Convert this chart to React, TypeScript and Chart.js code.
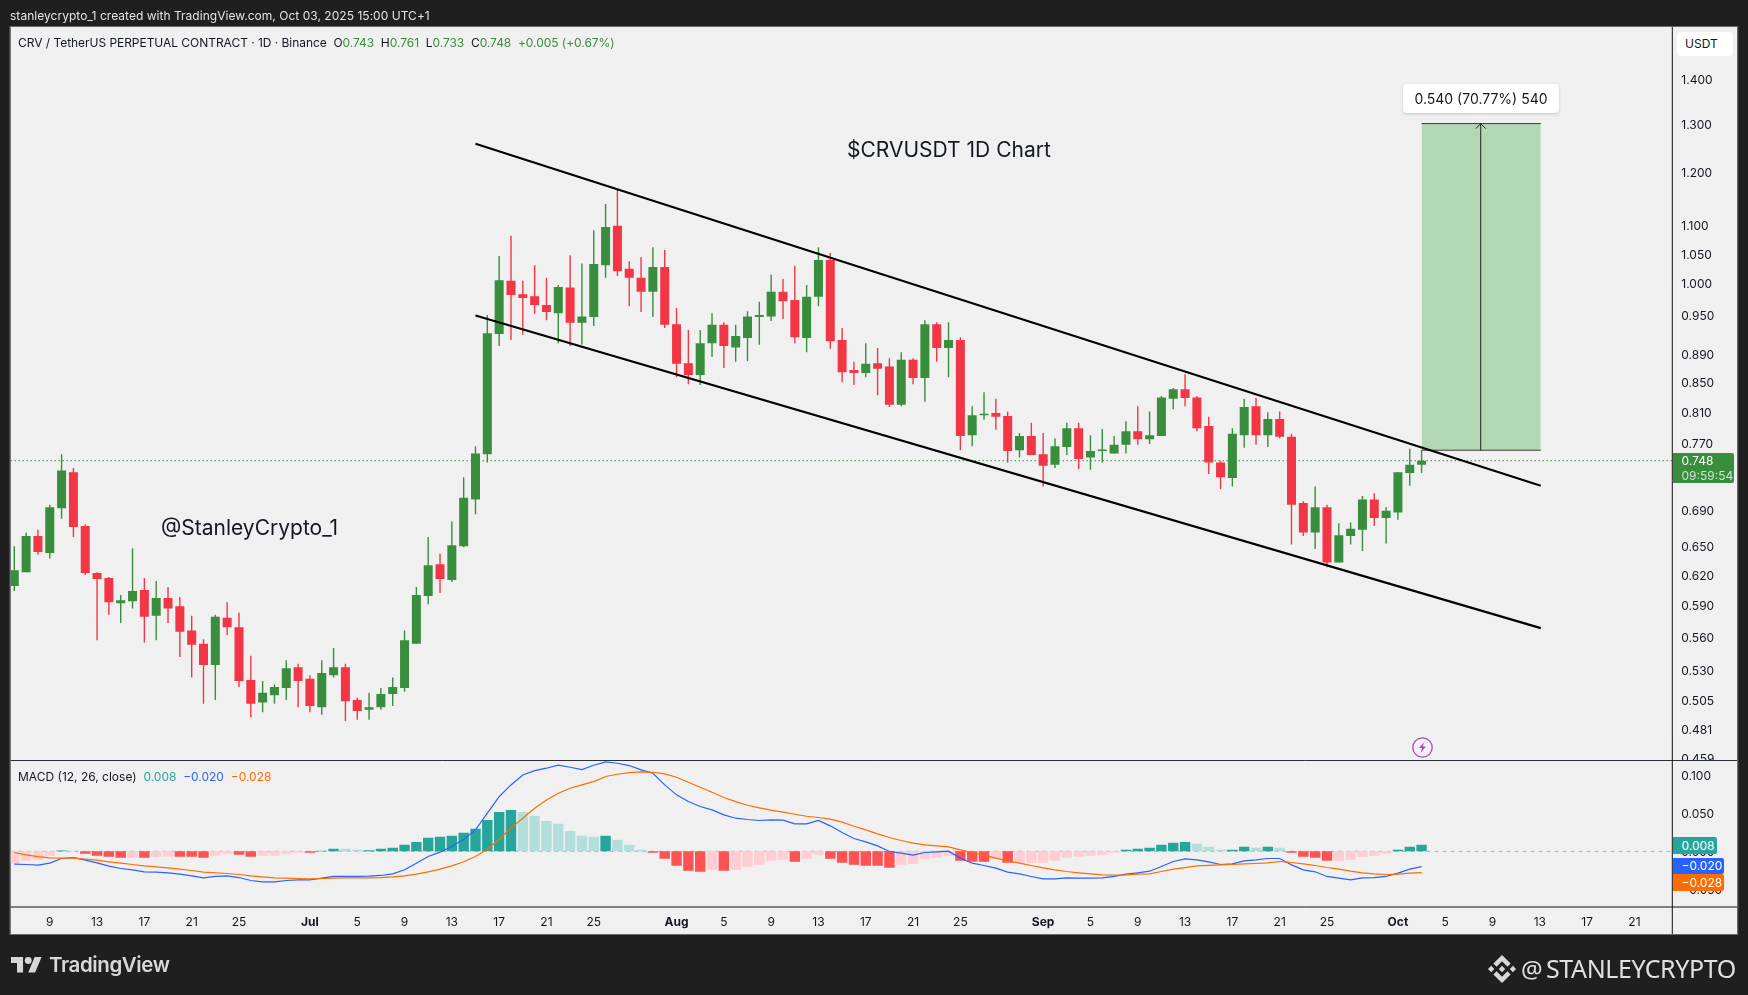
import React, { useEffect, useRef } from "react";
import { Chart, registerables } from "chart.js";

Chart.register(...registerables);

// Daily candles, Jun 6 2025 (day -25 counted from Jul 1) to Oct 3 2025 (day 94)
const firstDay = -25;
const opens = [
  0.609, 0.623, 0.661, 0.643, 0.692, 0.734, 0.672, 0.622, 0.617, 0.592,
  0.594, 0.605, 0.58, 0.597, 0.589, 0.566, 0.554, 0.535, 0.578, 0.569,
  0.522, 0.503, 0.509, 0.515, 0.533, 0.523, 0.499, 0.526, 0.533, 0.505,
  0.497, 0.499, 0.51, 0.515, 0.554, 0.599, 0.631, 0.615, 0.65, 0.702,
  0.756, 0.921, 1.005, 0.983, 0.98, 0.966, 0.953, 0.994, 0.938, 0.947,
  1.031, 1.1, 1.025, 1.01, 0.987, 1.028, 0.936, 0.878, 0.861, 0.907,
  0.935, 0.901, 0.915, 0.947, 0.948, 0.987, 0.974, 0.915, 0.979, 1.04,
  0.912, 0.868, 0.864, 0.878, 0.873, 0.82, 0.883, 0.857, 0.936, 0.9,
  0.912, 0.78, 0.806, 0.809, 0.805, 0.761, 0.779, 0.756, 0.743, 0.765,
  0.789, 0.752, 0.76, 0.757, 0.768, 0.785, 0.775, 0.779, 0.828, 0.841,
  0.83, 0.792, 0.746, 0.727, 0.78, 0.818, 0.78, 0.801, 0.778, 0.698,
  0.665, 0.693, 0.633, 0.661, 0.668, 0.702, 0.681, 0.687, 0.733, 0.743,
];
const highs = [
  0.65, 0.665, 0.668, 0.696, 0.756, 0.739, 0.674, 0.623, 0.618, 0.6,
  0.648, 0.617, 0.614, 0.608, 0.598, 0.58, 0.558, 0.581, 0.593, 0.583,
  0.543, 0.521, 0.518, 0.539, 0.536, 0.526, 0.539, 0.55, 0.536, 0.507,
  0.511, 0.515, 0.524, 0.566, 0.608, 0.66, 0.642, 0.677, 0.728, 0.766,
  0.95, 1.047, 1.082, 1.005, 1.031, 1.01, 0.998, 1.048, 1.034, 1.092,
  1.14, 1.167, 1.038, 1.045, 1.062, 1.057, 0.961, 0.927, 0.927, 0.953,
  0.939, 0.935, 0.956, 0.971, 1.015, 1.008, 1.03, 0.998, 1.062, 1.052,
  0.93, 0.88, 0.907, 0.9, 0.885, 0.894, 0.885, 0.942, 0.939, 0.939,
  0.916, 0.818, 0.837, 0.828, 0.811, 0.783, 0.796, 0.783, 0.776, 0.796,
  0.796, 0.78, 0.788, 0.779, 0.798, 0.818, 0.811, 0.832, 0.843, 0.862,
  0.832, 0.804, 0.748, 0.789, 0.828, 0.829, 0.81, 0.811, 0.782, 0.7,
  0.717, 0.696, 0.675, 0.676, 0.706, 0.709, 0.693, 0.734, 0.763, 0.761,
];
const lows = [
  0.604, 0.623, 0.641, 0.637, 0.68, 0.66, 0.62, 0.557, 0.581, 0.573,
  0.587, 0.555, 0.557, 0.573, 0.542, 0.524, 0.502, 0.505, 0.562, 0.516,
  0.491, 0.495, 0.502, 0.505, 0.499, 0.495, 0.493, 0.524, 0.488, 0.489,
  0.489, 0.497, 0.5, 0.512, 0.554, 0.591, 0.602, 0.613, 0.649, 0.685,
  0.746, 0.903, 0.912, 0.92, 0.952, 0.942, 0.907, 0.903, 0.905, 0.933,
  1.01, 1.013, 0.964, 0.955, 0.947, 0.93, 0.858, 0.848, 0.847, 0.887,
  0.871, 0.88, 0.881, 0.905, 0.941, 0.944, 0.907, 0.894, 0.964, 0.899,
  0.851, 0.847, 0.858, 0.833, 0.817, 0.818, 0.848, 0.824, 0.88, 0.858,
  0.761, 0.766, 0.8, 0.787, 0.746, 0.752, 0.755, 0.717, 0.739, 0.755,
  0.738, 0.737, 0.746, 0.757, 0.757, 0.768, 0.769, 0.779, 0.814, 0.818,
  0.785, 0.732, 0.714, 0.717, 0.764, 0.768, 0.765, 0.776, 0.652, 0.661,
  0.647, 0.628, 0.633, 0.652, 0.645, 0.672, 0.653, 0.679, 0.718, 0.733,
];
const closes = [
  0.625, 0.661, 0.644, 0.693, 0.736, 0.671, 0.622, 0.616, 0.593, 0.595,
  0.604, 0.579, 0.597, 0.587, 0.565, 0.553, 0.535, 0.579, 0.569, 0.521,
  0.502, 0.511, 0.516, 0.532, 0.521, 0.5, 0.528, 0.533, 0.504, 0.496,
  0.499, 0.51, 0.516, 0.557, 0.6, 0.63, 0.616, 0.651, 0.704, 0.757,
  0.922, 1.006, 0.982, 0.977, 0.966, 0.955, 0.995, 0.938, 0.948, 1.033,
  1.098, 1.021, 1.01, 0.987, 1.028, 0.935, 0.877, 0.861, 0.907, 0.935,
  0.903, 0.918, 0.948, 0.95, 0.987, 0.972, 0.916, 0.979, 1.04, 0.91,
  0.865, 0.864, 0.877, 0.87, 0.82, 0.883, 0.857, 0.936, 0.9, 0.912,
  0.779, 0.806, 0.808, 0.804, 0.76, 0.779, 0.755, 0.742, 0.766, 0.789,
  0.75, 0.76, 0.761, 0.768, 0.785, 0.775, 0.78, 0.83, 0.841, 0.829,
  0.789, 0.746, 0.728, 0.782, 0.817, 0.78, 0.801, 0.778, 0.696, 0.665,
  0.693, 0.633, 0.662, 0.669, 0.702, 0.681, 0.689, 0.734, 0.743, 0.748,
];

// MACD pane, in thousandths
const histogramMilli = [
  -16.4, -12.4, -11.1, -5.9, 1.1, 0.7, -3.3, -5.9, -7.2, -8.5,
  -8.5, -8.5, -7.2, -7.2, -7.2, -7.2, -8.5, -5.9, -3.3, -4.6,
  -7.2, -5.9, -5.9, -3.3, -2.0, -2.0, 0.7, 3.3, 3.3, 2.0,
  1.5, 3.3, 4.6, 8.5, 12.4, 17.7, 19.0, 20.3, 24.2, 29.5,
  41.2, 51.7, 54.3, 51.7, 46.5, 39.9, 36.0, 26.8, 20.3, 19.0,
  20.3, 15.1, 8.5, 2.0, -2.0, -9.8, -19.0, -25.5, -26.8, -24.2,
  -25.5, -24.2, -20.3, -17.7, -12.4, -11.1, -13.7, -9.8, -4.6, -9.8,
  -15.1, -17.7, -19.0, -19.0, -21.6, -17.7, -16.4, -9.8, -8.5, -5.9,
  -12.4, -13.7, -13.7, -9.8, -15.1, -15.1, -15.1, -15.1, -12.4, -8.5,
  -7.2, -5.9, -4.6, -2.0, 2.0, 3.3, 4.6, 8.5, 11.1, 12.4,
  9.8, 5.9, 2.0, 2.0, 5.9, 4.6, 5.9, 4.6, -2.0, -7.2,
  -8.5, -12.4, -12.4, -11.1, -7.2, -5.9, -3.3, 2.0, 5.9, 8.5,
];
const histogramTones = (
  "PPPPTLRRRR" + "PRPPRRRPPR" + "RPPPPRTTLL" + "TTTTTTTTTT" +
  "TTTLLLLLLL" + "TLLLRRRRRP" + "RPPPPPRPPR" + "RRRRRPPPPP" +
  "RRRPRPPPPP" + "PPPPTTTTTT" + "LLLTTLTLRR" + "RRPPPPPTTT"
).split("");
const macdMilli = [
  -16.8, -17.2, -18.1, -15.5, -9.4, -8.1, -11.6, -15.1, -19.4, -22.5,
  -24.2, -26.8, -27.3, -28.1, -29.9, -32.1, -34.7, -32.9, -32.1, -34.3,
  -38.2, -39.9, -39.9, -38.2, -37.3, -37.3, -35.1, -32.9, -32.9, -32.9,
  -32.5, -31.6, -29.5, -24.2, -15.5, -6.8, -1.1, 6.3, 15.9, 28.1,
  50.0, 71.8, 87.0, 100.1, 105.8, 108.9, 112.8, 110.2, 107.1, 112.8,
  117.1, 115.4, 112.4, 106.7, 102.3, 87.0, 74.0, 65.2, 58.7, 54.3,
  47.8, 43.4, 41.7, 40.4, 41.2, 40.8, 36.0, 36.0, 40.4, 33.4,
  24.7, 16.8, 12.4, 7.2, -0.2, -2.4, -5.0, -1.5, -0.7, 0.2,
  -8.9, -15.5, -18.5, -22.0, -27.3, -29.5, -32.9, -36.0, -36.0, -34.7,
  -35.1, -35.1, -34.7, -32.9, -29.9, -28.1, -26.0, -19.9, -13.3, -9.8,
  -11.1, -13.7, -17.2, -16.4, -12.4, -11.1, -9.4, -9.4, -17.7, -24.2,
  -26.8, -32.9, -35.1, -37.3, -34.7, -34.3, -32.9, -28.6, -23.3, -20.0,
];
const signalMilli = [
  -1.5, -4.6, -6.8, -8.5, -8.9, -8.9, -10.3, -11.6, -13.7, -15.5,
  -17.2, -19.0, -20.3, -21.6, -23.3, -25.1, -27.3, -28.1, -29.0, -30.3,
  -32.1, -33.4, -34.7, -35.1, -35.6, -36.0, -35.6, -35.1, -34.7, -34.7,
  -34.7, -34.3, -33.4, -32.1, -29.9, -26.8, -23.3, -19.0, -13.7, -6.8,
  2.8, 15.9, 30.8, 43.4, 56.5, 67.4, 76.1, 82.7, 87.0, 91.4,
  98.0, 101.0, 103.2, 104.1, 103.6, 101.4, 97.1, 90.5, 84.0, 77.4,
  70.5, 65.2, 60.4, 56.9, 53.9, 51.3, 48.6, 46.0, 44.3, 42.1,
  38.2, 32.9, 28.1, 22.9, 18.1, 14.2, 10.7, 8.5, 7.2, 5.9,
  2.0, -1.5, -5.0, -8.9, -12.4, -15.5, -18.5, -21.6, -24.2, -26.4,
  -28.1, -29.5, -30.8, -31.2, -30.8, -29.9, -29.5, -26.4, -23.3, -21.2,
  -19.0, -18.5, -17.7, -17.2, -16.4, -15.9, -15.1, -13.3, -14.6, -16.4,
  -18.5, -21.2, -23.3, -26.0, -28.1, -29.5, -30.3, -29.9, -28.6, -28.0,
];

// Axes
const priceTicks = [1.4, 1.3, 1.2, 1.1, 1.05, 1.0, 0.95, 0.89, 0.85, 0.81, 0.77, 0.69, 0.65, 0.62, 0.59, 0.56, 0.53, 0.505, 0.481, 0.459];
const macdTicks = [0.1, 0.05, 0, -0.05];
const timeTickDays = [-22, -18, -14, -10, -6, 0, 4, 8, 12, 16, 20, 24, 31, 35, 39, 43, 47, 51, 55, 62, 66, 70, 74, 78, 82, 86, 92, 96, 100, 104, 108, 112];
const timeTickLabels = ["9", "13", "17", "21", "25", "Jul", "5", "9", "13", "17", "21", "25", "Aug", "5", "9", "13", "17", "21", "25", "Sep", "5", "9", "13", "17", "21", "25", "Oct", "5", "9", "13", "17", "21"];
const monthLabels = ["Jul", "Aug", "Sep", "Oct"];

// Drawings, in day / price terms
const upperChannelDays = [14, 104.08];
const upperChannelPrices = [1.2586, 0.7179];
const lowerChannelDays = [14, 104.08];
const lowerChannelPrices = [0.9493, 0.5683];
const projectionDays = [94, 104.08];
const projectionLow = 0.761;
const projectionHigh = 1.301;
const projectionMidDay = 99;
const arrowHeadDays = [98.58, 99, 99.42];
const arrowHeadPrices = [1.2903, 1.301, 1.2903];
const lastPrice = 0.748;

const dayMin = -25.32;
const dayMax = 115.2;
const priceMin = 0.4573;
const priceMax = 1.5245;
const macdMin = -0.0729;
const macdMax = 0.119;

const UP = "#388e3c";
const DOWN = "#f23645";
const toneColors: Record<string, string> = { T: "#26a69a", L: "#b2dfdb", R: "#ff5252", P: "#ffcdd2" };
const FONT = "Inter, 'Noto Sans', sans-serif";
const PANEL = "#f0f0f0";
const DARK = "#1f1f1f";

const days = opens.map((_, i) => firstDay + i);
const pts = (xs: number[], ys: number[]) => xs.map((x, i) => ({ x, y: ys[i] }));
const candleColors = opens.map((o, i) => (closes[i] >= o ? UP : DOWN));

const backdrop = {
  id: "backdrop",
  beforeDraw(chart: any) {
    const { ctx, width, height, chartArea: a, scales } = chart;
    const axisRight = scales.priceY.right;
    ctx.save();
    ctx.fillStyle = DARK;
    ctx.fillRect(0, 0, width, height);
    ctx.fillStyle = PANEL;
    ctx.fillRect(a.left, a.top, axisRight - a.left, scales.x.bottom - a.top);
    ctx.restore();
  },
  beforeDatasetsDraw(chart: any) {
    // the MACD pane cuts off the lowest price label
    const { ctx, scales } = chart;
    const m = scales.macdY;
    ctx.save();
    ctx.fillStyle = PANEL;
    ctx.fillRect(m.left, m.top, m.right - m.left, m.bottom - m.top);
    ctx.restore();
  },
  afterDraw(chart: any) {
    const { ctx, chartArea: a, scales } = chart;
    const right = scales.priceY.right;
    const bottom = scales.x.bottom;
    const line = (x1: number, y1: number, x2: number, y2: number, c: string) => {
      ctx.strokeStyle = c;
      ctx.lineWidth = 1;
      ctx.beginPath();
      ctx.moveTo(x1, y1);
      ctx.lineTo(x2, y2);
      ctx.stroke();
    };
    ctx.save();
    line(a.left, scales.priceY.bottom, right, scales.priceY.bottom, "#2a2e39");
    line(a.left, a.bottom, right, a.bottom, "#111111");
    line(a.right, a.top, a.right, bottom, "#111111");
    ctx.strokeStyle = "#6a6a6a";
    ctx.strokeRect(a.left - 0.5, a.top - 0.5, right - a.left + 1, bottom - a.top + 1);
    ctx.restore();
  },
};

const abs = (left: number, top: number, extra: React.CSSProperties = {}): React.CSSProperties => ({
  position: "absolute",
  left,
  top,
  whiteSpace: "nowrap",
  fontFamily: FONT,
  ...extra,
});

const tag = (top: number, height: number, width: number, bg: string, text: string) => (
  <div
    style={abs(1672.5, top, {
      width,
      height,
      background: bg,
      color: "#fff",
      fontSize: 12,
      lineHeight: height + "px",
      paddingLeft: 9,
      boxSizing: "border-box",
      borderRadius: "0 2px 2px 0",
    })}
  >
    {text}
  </div>
);

export default function App() {
  const ref = useRef<HTMLCanvasElement>(null);
  useEffect(() => {
    const chart = new Chart(ref.current as HTMLCanvasElement, {
      type: "bar",
      data: {
        datasets: [
          {
            type: "line",
            label: "Last price",
            data: pts([dayMin, dayMax], [lastPrice, lastPrice]),
            yAxisID: "priceY",
            borderColor: UP,
            borderWidth: 1,
            borderDash: [1.5, 2.5],
            pointRadius: 0,
            order: 20,
          },
          {
            type: "bar",
            label: "Wicks",
            data: days.map((d, i) => ({ x: d, y: [lows[i], highs[i]] })),
            yAxisID: "priceY",
            backgroundColor: candleColors,
            barThickness: 1.4,
            grouped: false,
            inflateAmount: 0,
            order: 15,
          },
          {
            type: "bar",
            label: "Candles",
            data: days.map((d, i) => ({ x: d, y: [Math.min(opens[i], closes[i]), Math.max(opens[i], closes[i])] })),
            yAxisID: "priceY",
            backgroundColor: candleColors,
            barThickness: 9,
            grouped: false,
            inflateAmount: 0,
            minBarLength: 1.5,
            order: 14,
          },
          {
            type: "line",
            label: "Projection",
            data: pts(projectionDays, [projectionHigh, projectionHigh]),
            yAxisID: "priceY",
            borderColor: "#3c3c3c",
            borderWidth: 1,
            backgroundColor: "#b2d8b3",
            fill: { value: projectionLow },
            pointRadius: 0,
            order: 10,
          },
          {
            type: "line",
            label: "Projection base",
            data: pts(projectionDays, [projectionLow, projectionLow]),
            yAxisID: "priceY",
            borderColor: "#3c3c3c",
            borderWidth: 1,
            pointRadius: 0,
            order: 9,
          },
          {
            type: "line",
            label: "Projection arrow",
            data: pts([projectionMidDay, projectionMidDay], [projectionLow, projectionHigh]),
            yAxisID: "priceY",
            borderColor: "#222222",
            borderWidth: 1,
            pointRadius: 0,
            order: 8,
          },
          {
            type: "line",
            label: "Arrow head",
            data: pts(arrowHeadDays, arrowHeadPrices),
            yAxisID: "priceY",
            borderColor: "#222222",
            borderWidth: 1,
            pointRadius: 0,
            order: 7,
          },
          {
            type: "line",
            label: "Upper channel",
            data: pts(upperChannelDays, upperChannelPrices),
            yAxisID: "priceY",
            borderColor: "#000000",
            borderWidth: 2.2,
            pointRadius: 0,
            order: 2,
          },
          {
            type: "line",
            label: "Lower channel",
            data: pts(lowerChannelDays, lowerChannelPrices),
            yAxisID: "priceY",
            borderColor: "#000000",
            borderWidth: 2.2,
            pointRadius: 0,
            order: 1,
          },
          {
            type: "line",
            label: "Zero",
            data: pts([dayMin, dayMax], [0, 0]),
            yAxisID: "macdY",
            borderColor: "#b0b0b0",
            borderWidth: 1,
            borderDash: [4, 4],
            pointRadius: 0,
            order: 30,
          },
          {
            type: "bar",
            label: "Histogram",
            data: days.map((d, i) => ({ x: d, y: histogramMilli[i] / 1000 })),
            yAxisID: "macdY",
            backgroundColor: histogramTones.map((t) => toneColors[t]),
            barThickness: 10.4,
            grouped: false,
            inflateAmount: 0,
            order: 29,
          },
          {
            type: "line",
            label: "MACD",
            data: days.map((d, i) => ({ x: d, y: macdMilli[i] / 1000 })),
            yAxisID: "macdY",
            borderColor: "#2962ff",
            borderWidth: 1.2,
            pointRadius: 0,
            order: 28,
          },
          {
            type: "line",
            label: "Signal",
            data: days.map((d, i) => ({ x: d, y: signalMilli[i] / 1000 })),
            yAxisID: "macdY",
            borderColor: "#ff6d00",
            borderWidth: 1.2,
            pointRadius: 0,
            order: 27,
          },
        ],
      },
      options: {
        responsive: false,
        animation: false,
        devicePixelRatio: 1,
        events: [],
        layout: { padding: { left: 10.5, top: 27, right: 10.7, bottom: 61 } },
        plugins: { legend: { display: false }, tooltip: { enabled: false } },
        scales: {
          x: {
            type: "linear",
            position: "bottom",
            min: dayMin,
            max: dayMax,
            offset: false,
            bounds: "data",
            grid: { display: false, drawTicks: false },
            border: { display: false },
            afterBuildTicks: (s: any) => {
              s.ticks = timeTickDays.map((value) => ({ value }));
            },
            afterFit: (s: any) => {
              s.height = 27;
            },
            ticks: {
              autoSkip: false,
              maxRotation: 0,
              padding: 8,
              color: "#131722",
              font: (c: any) => {
                const label = timeTickLabels[c.index];
                return { family: FONT, size: 12, weight: monthLabels.includes(label) ? "700" : "400" };
              },
              callback: (_v: any, i: number) => timeTickLabels[i],
            },
          },
          priceY: {
            type: "logarithmic",
            position: "right",
            stack: "panes",
            stackWeight: 733.5,
            min: priceMin,
            max: priceMax,
            beginAtZero: false,
            grid: { display: false, drawTicks: false },
            border: { display: false },
            afterBuildTicks: (s: any) => {
              s.ticks = priceTicks.map((value) => ({ value }));
            },
            afterFit: (s: any) => {
              s.width = 65;
            },
            ticks: {
              autoSkip: false,
              padding: 9,
              labelOffset: 1,
              color: "#131722",
              font: { family: FONT, size: 12 },
              callback: (v: any) => Number(v).toFixed(3),
            },
          },
          macdY: {
            type: "linear",
            position: "right",
            stack: "panes",
            stackWeight: 146.5,
            min: macdMin,
            max: macdMax,
            bounds: "data",
            beginAtZero: false,
            grid: { display: false, drawTicks: false },
            border: { display: false },
            afterBuildTicks: (s: any) => {
              s.ticks = macdTicks.map((value) => ({ value }));
            },
            afterFit: (s: any) => {
              s.width = 65;
            },
            ticks: {
              z: 1,
              autoSkip: false,
              padding: 9,
              labelOffset: 1,
              color: "#131722",
              font: { family: FONT, size: 12 },
              callback: (v: any) => (Number(v) < 0 ? "\u2212" : "") + Math.abs(Number(v)).toFixed(3),
            },
          },
        },
      } as any,
      plugins: [backdrop],
    } as any);
    return () => chart.destroy();
  }, []);

  const g = { color: UP };
  return (
    <div style={{ position: "fixed", left: 0, top: 0, width: 1748, height: 995, overflow: "hidden", background: DARK }}>
      <canvas ref={ref} width={1748} height={995} style={{ position: "absolute", left: 0, top: 0, display: "block" }} />

      <div style={abs(10, 8, { color: "#e4e4e4", fontSize: 12, lineHeight: "16px", letterSpacing: 0.03 })}>
        stanleycrypto_1 created with TradingView.com, Oct 03, 2025 15:00 UTC+1
      </div>

      <div style={abs(18, 35, { color: "#131722", fontSize: 12, lineHeight: "16px", whiteSpace: "pre", letterSpacing: -0.04 })}>
        {"CRV / TetherUS PERPETUAL CONTRACT \u00b7 1D \u00b7 Binance  O"}
        <span style={g}>0.743</span>
        {"  H"}
        <span style={g}>0.761</span>
        {"  L"}
        <span style={g}>0.733</span>
        {"  C"}
        <span style={g}>0.748</span>
        <span style={g}>{"  +0.005 (+0.67%)"}</span>
      </div>

      <div style={abs(847, 138, { color: "#131722", fontSize: 21, lineHeight: "24px" })}>$CRVUSDT 1D Chart</div>
      <div style={abs(161, 515, { color: "#131722", fontSize: 21, lineHeight: "26px" })}>@StanleyCrypto_1</div>

      <div
        style={abs(1403, 84, {
          width: 156,
          height: 29,
          background: "#fff",
          borderRadius: 4,
          boxShadow: "0 1px 3px rgba(0,0,0,0.18)",
          color: "#131722",
          fontSize: 14,
          lineHeight: "29px",
          textAlign: "center",
        })}
      >
        0.540 (70.77%) 540
      </div>

      <div
        style={abs(1677, 32, {
          width: 56,
          height: 24,
          background: "#fff",
          borderRadius: 4,
          color: "#131722",
          fontSize: 12,
          lineHeight: "24px",
          paddingLeft: 8,
          boxSizing: "border-box",
        })}
      >
        USDT
      </div>

      <div
        style={abs(1672.5, 453, {
          width: 61.5,
          height: 30,
          background: UP,
          borderRadius: "0 2px 2px 0",
          paddingLeft: 9,
          boxSizing: "border-box",
          fontSize: 12,
          lineHeight: "15px",
          color: "#fff",
        })}
      >
        <div>0.748</div>
        <div style={{ opacity: 0.75 }}>09:59:54</div>
      </div>

      <svg style={{ position: "absolute", left: 1412, top: 737 }} width={21} height={21} viewBox="0 0 21 21">
        <circle cx="10.5" cy="10.5" r="9.7" fill="#f4f0f6" stroke="#ab47bc" strokeWidth="1.3" />
        <path d="M12 5.2 L7 11 L10 11 L8.6 15.8 L14 9.6 L10.8 9.6 Z" fill="#ab47bc" />
      </svg>

      <div style={abs(18, 769, { color: "#131722", fontSize: 12, lineHeight: "16px", whiteSpace: "pre" })}>
        {"MACD (12, 26, close)  "}
        <span style={{ color: "#26a69a" }}>0.008</span>
        {"  "}
        <span style={{ color: "#2962ff" }}>{"\u22120.020"}</span>
        {"  "}
        <span style={{ color: "#ff6d00" }}>{"\u22120.028"}</span>
      </div>

      {tag(837, 17, 44, "#26a69a", "0.008")}
      {tag(858, 16, 51, "#2962ff", "\u22120.020")}
      {tag(874, 17, 51, "#ff6d00", "\u22120.028")}

      <svg style={{ position: "absolute", left: 11, top: 957 }} width={31} height={15.5} viewBox="0 4 36 18" fill="#d8d8d8">
        <path d="M14 22H7V11H0V4h14v18zM28 22h-8l7.5-18h8L28 22z" />
        <circle cx="20" cy="8" r="4" />
      </svg>
      <div style={abs(49, 952, { color: "#d8d8d8", fontSize: 20.5, fontWeight: 600, lineHeight: "26px", letterSpacing: -0.4 })}>
        TradingView
      </div>

      <svg style={{ position: "absolute", left: 1488, top: 955 }} width={28} height={28} viewBox="0 0 126.61 126.61" fill="#d8d8d8">
        <path d="M38.73 53.2L63.3 28.62l24.6 24.6 14.3-14.31L63.3 0 24.42 38.9l14.31 14.3M0 63.31l14.3-14.31 14.31 14.31-14.31 14.3zM38.73 73.41L63.3 98l24.6-24.6 14.31 14.29-.01.01L63.3 126.61 24.42 87.73l-.02-.02 14.33-14.3M98.28 63.31l14.3-14.3 14.31 14.3-14.31 14.31z" />
        <path d="M77.83 63.3L63.3 48.78 52.57 59.51l-1.24 1.24-2.54 2.54 14.51 14.52 14.53-14.5z" />
      </svg>
      <div style={abs(1521, 951, { color: "#e0e0e0", fontFamily: "'Noto Sans', sans-serif", fontSize: 24, lineHeight: "36px" })}>@</div>
      <div style={abs(1546, 950, { color: "#e0e0e0", fontFamily: "'Noto Sans', sans-serif", fontSize: 25, lineHeight: "36px", letterSpacing: -0.4 })}>
        STANLEYCRYPTO
      </div>
    </div>
  );
}
